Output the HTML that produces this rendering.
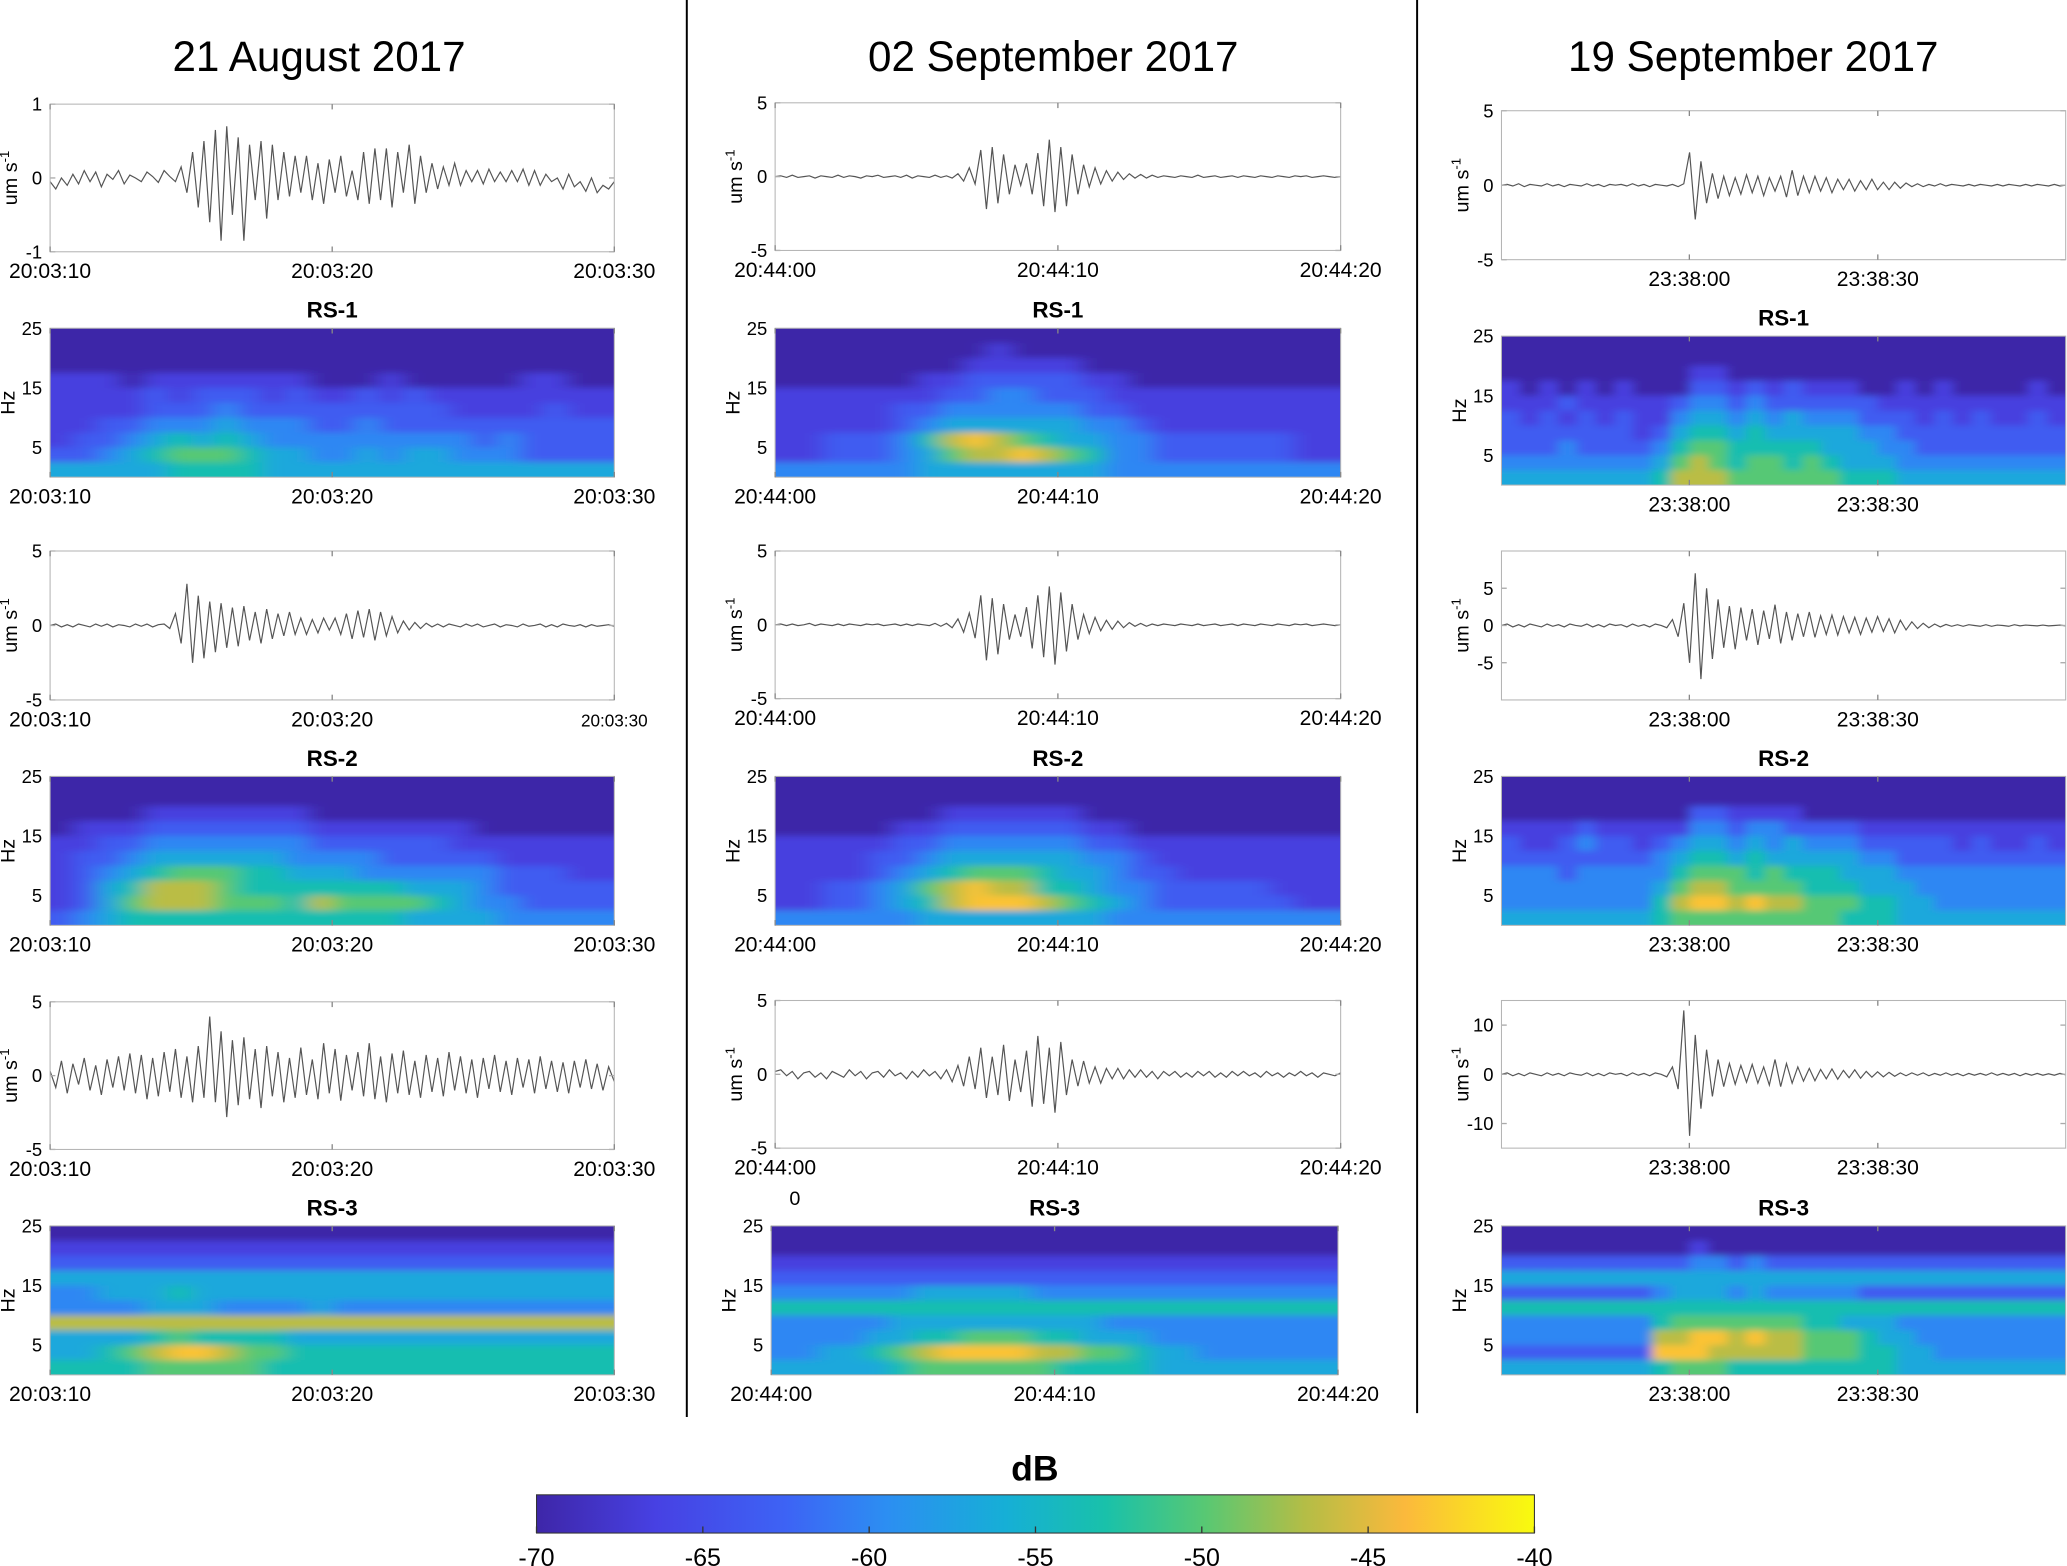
<!DOCTYPE html>
<html><head><meta charset="utf-8"><style>
html,body{margin:0;padding:0;background:#fff;}
svg{display:block;}
text{font-family:"Liberation Sans",sans-serif;}
</style></head><body>
<svg id="fig" width="2067" height="1566" viewBox="0 0 1568 1188" preserveAspectRatio="none" xmlns="http://www.w3.org/2000/svg">
<defs>
<linearGradient id="parula" x1="0" x2="1" y1="0" y2="0">
<stop offset="0" stop-color="#3e26a8"/><stop offset="0.12" stop-color="#4741e3"/><stop offset="0.25" stop-color="#3d63f5"/><stop offset="0.35" stop-color="#2c8ef2"/><stop offset="0.47" stop-color="#16afd6"/><stop offset="0.57" stop-color="#19c1aa"/><stop offset="0.67" stop-color="#58c873"/><stop offset="0.77" stop-color="#b4bd46"/><stop offset="0.87" stop-color="#fbb93c"/><stop offset="1" stop-color="#f9fb0e"/>
</linearGradient>
</defs>
<g id="root"></g>
</svg>
<script>
// ---- waveform data (velocity, um/s) ----
const c1w1=[-0.05,-0.15,0.0,-0.1,0.05,-0.08,0.1,-0.05,0.08,-0.12,0.05,-0.02,0.1,-0.08,0.04,0.0,-0.05,0.08,0.02,-0.06,0.1,0.02,-0.05,0.15,-0.2,0.35,-0.4,0.5,-0.6,0.65,-0.85,0.7,-0.5,0.55,-0.85,0.45,-0.3,0.5,-0.55,0.45,-0.3,0.35,-0.25,0.3,-0.2,0.3,-0.3,0.2,-0.35,0.25,-0.2,0.3,-0.25,0.1,-0.3,0.35,-0.35,0.4,-0.3,0.4,-0.4,0.35,-0.2,0.45,-0.35,0.3,-0.2,0.2,-0.15,0.15,-0.1,0.2,-0.1,0.1,-0.05,0.1,-0.08,0.12,-0.05,0.08,-0.05,0.1,-0.05,0.12,-0.1,0.1,-0.1,0.05,-0.05,0.0,-0.15,0.05,-0.12,-0.05,-0.18,0.0,-0.2,-0.1,-0.15,-0.05];
const c1w2=[0,0.1,-0.1,0.05,-0.1,0.1,0,-0.1,0.1,-0.05,0.1,-0.1,0.05,0,-0.1,0.1,-0.05,0.1,-0.1,0.05,0.1,-0.2,0.8,-1.2,2.8,-2.5,2.0,-2.2,1.6,-1.8,1.5,-1.5,1.2,-1.4,1.3,-1.0,0.9,-1.2,1.1,-0.9,0.8,-0.7,0.9,-0.6,0.5,-0.6,0.4,-0.5,0.5,-0.3,0.5,-0.6,0.8,-0.9,1.0,-0.8,1.1,-1.0,0.9,-0.7,0.6,-0.5,0.3,-0.3,0.2,-0.2,0.15,-0.1,0.1,-0.1,0.1,0,-0.1,0.1,-0.05,0.1,-0.1,0,0.1,-0.1,0.05,0,-0.1,0.1,-0.05,0,0.1,-0.1,0.05,-0.1,0.1,0,-0.05,0.05,-0.1,0.05,-0.05,0,0.05,-0.05];
const c1w3=[0.3,-0.8,1.0,-1.2,0.8,-0.6,1.2,-1.0,0.7,-1.3,1.1,-0.8,1.3,-1.0,1.5,-1.2,1.4,-1.6,1.2,-1.4,1.6,-1.1,1.8,-1.5,1.3,-1.8,2.0,-1.5,4.0,-1.8,3.0,-2.8,2.4,-2.0,2.6,-1.6,1.8,-2.2,2.0,-1.4,1.6,-1.8,1.2,-1.5,1.9,-1.3,1.1,-1.6,2.2,-1.2,1.8,-1.7,1.4,-1.0,1.6,-1.4,2.2,-1.6,1.3,-1.8,1.5,-1.2,1.7,-1.3,1.0,-1.5,1.4,-1.1,1.2,-1.4,1.6,-1.0,1.3,-1.2,1.1,-1.5,1.2,-0.9,1.4,-1.1,1.0,-1.3,1.2,-0.8,1.1,-1.2,1.3,-0.9,1.0,-1.1,0.9,-1.2,1.0,-0.8,1.1,-0.9,0.8,-1.0,0.6,-0.4];
const c2w1=[0,0.05,-0.05,0.1,-0.05,0,0.05,-0.1,0.05,0,-0.05,0.1,-0.05,0.05,0,-0.1,0.05,0,0.1,-0.05,0,0.05,-0.05,0.1,-0.1,0.05,0,-0.05,0.1,-0.05,0.05,-0.1,0.2,-0.3,0.6,-0.5,1.8,-2.2,2.0,-1.8,1.5,-1.2,0.8,-0.6,0.9,-1.2,1.6,-2.0,2.5,-2.4,2.0,-2.0,1.5,-1.2,0.8,-0.7,0.6,-0.5,0.4,-0.3,0.3,-0.2,0.2,-0.1,0.15,-0.1,0.1,-0.05,0.05,0,-0.05,0.05,0,-0.05,0.1,-0.05,0,0.05,-0.05,0,0.05,-0.05,0.05,0,-0.05,0.05,0,-0.05,0.05,0,-0.05,0.05,0,0.05,-0.05,0,0.05,0,-0.05,0];
const c2w2=[0,0.05,-0.05,0.05,-0.05,0,0.1,-0.05,0.05,0,-0.05,0.05,-0.05,0.05,0,-0.05,0.05,0,0.05,-0.05,0,0.05,-0.05,0.05,-0.05,0.05,0,-0.05,0.1,-0.1,0.1,-0.2,0.4,-0.5,0.8,-0.9,2.0,-2.4,1.8,-2.0,1.4,-1.0,0.7,-0.8,1.2,-1.6,2.0,-2.2,2.6,-2.7,2.2,-1.8,1.4,-1.0,0.7,-0.6,0.5,-0.4,0.3,-0.3,0.25,-0.2,0.15,-0.1,0.1,-0.1,0.05,-0.05,0.05,0,-0.05,0.05,0,-0.05,0.05,-0.05,0,0.05,-0.05,0,0.05,-0.05,0.05,0,-0.05,0.05,0,-0.05,0.05,0,-0.05,0.05,0,0.05,-0.05,0,0.05,0,-0.05,0];
const c2w3=[0.2,0.3,-0.1,0.2,-0.3,0.1,0.2,-0.2,0.1,-0.3,0.2,0,-0.2,0.3,-0.1,0.2,-0.3,0.1,0.2,-0.2,0.3,-0.1,0.1,-0.3,0.2,-0.2,0.3,-0.1,0.2,-0.3,0.3,-0.5,0.6,-0.8,1.2,-1.0,1.8,-1.6,1.2,-1.4,2.0,-1.8,1.0,-1.2,1.6,-2.2,2.6,-2.0,1.8,-2.6,2.2,-1.4,1.0,-0.8,0.9,-0.6,0.5,-0.6,0.4,-0.3,0.4,-0.3,0.3,-0.2,0.3,-0.2,0.2,-0.3,0.2,-0.1,0.2,-0.2,0.1,-0.2,0.2,-0.1,0.2,-0.2,0.1,-0.2,0.2,-0.1,0.2,-0.1,0.1,-0.2,0.2,-0.1,0.1,-0.2,0.1,-0.1,0.2,-0.1,0.1,-0.2,0.1,0,-0.1,0.1];
const c3w1=[0,0.05,-0.05,0.1,-0.1,0.05,0,-0.05,0.1,-0.05,0.05,-0.1,0.05,0,-0.05,0.1,-0.05,0.05,-0.1,0.05,0,0.05,-0.05,0.1,-0.05,0.05,-0.1,0.05,0,-0.05,0.05,-0.1,0.1,2.2,-2.3,1.6,-1.2,0.8,-0.9,0.6,-0.7,0.5,-0.6,0.7,-0.5,0.6,-0.7,0.5,-0.4,0.6,-0.8,1.0,-0.7,0.6,-0.5,0.6,-0.4,0.5,-0.5,0.4,-0.3,0.4,-0.4,0.3,-0.3,0.4,-0.3,0.2,-0.3,0.2,-0.2,0.15,-0.1,0.1,-0.1,0.05,-0.05,0.1,-0.05,0.05,0,-0.05,0.05,-0.05,0.05,0,-0.05,0.05,-0.05,0.05,0,-0.05,0.05,-0.05,0.05,0,-0.05,0.05,-0.05,0];
const c3w2=[0,0.2,-0.2,0.1,-0.2,0.2,0,-0.2,0.2,-0.1,0.1,-0.2,0.2,0,-0.1,0.2,-0.2,0.1,-0.2,0.2,0,0.1,-0.2,0.2,-0.1,0.1,-0.2,0.2,0,-0.3,0.8,-1.5,3.0,-5.0,7.0,-7.2,5.0,-4.5,3.5,-3.0,2.6,-3.2,2.4,-2.0,2.2,-2.6,2.0,-1.8,2.8,-2.4,1.8,-2.0,1.6,-1.5,1.8,-1.6,1.3,-1.2,1.4,-1.3,1.2,-1.0,1.1,-1.2,1.0,-0.9,1.2,-0.8,0.9,-1.0,0.7,-0.6,0.5,-0.4,0.3,-0.3,0.2,-0.2,0.15,-0.1,0.1,-0.1,0.1,0,-0.1,0.1,-0.1,0.05,0,-0.1,0.1,-0.05,0.05,0,-0.05,0.05,-0.05,0,0.05,-0.05];
const c3w3=[0,0.3,-0.3,0.2,-0.3,0.3,0,-0.3,0.3,-0.2,0.2,-0.3,0.3,0,-0.2,0.3,-0.3,0.2,-0.3,0.3,0,0.2,-0.3,0.3,-0.2,0.2,-0.3,0.3,0,-0.5,1.5,-3.0,13.0,-12.5,8.0,-7.0,5.0,-4.5,3.0,-2.5,2.2,-2.0,1.8,-1.6,2.0,-1.8,1.5,-2.2,3.0,-2.5,2.2,-1.8,1.5,-1.4,1.2,-1.3,1.0,-0.9,1.1,-1.0,0.8,-0.7,0.9,-0.8,0.6,-0.6,0.5,-0.5,0.4,-0.4,0.3,-0.3,0.3,-0.2,0.3,-0.3,0.2,-0.2,0.3,-0.2,0.2,-0.3,0.2,-0.2,0.2,-0.2,0.3,-0.2,0.2,-0.2,0.2,-0.3,0.2,-0.2,0.2,-0.2,0.1,-0.2,0.2,-0.1];
// ---- spectrogram data: rows 25Hz(top) -> 0Hz(bottom), levels 0..9 ----
const c1s1=["000000000000000000000000","000000000000000000000000","000000000000000000000000","111011111110001000001100","111121222121121211111111","111122232222222221111211","112233343332232222222222","122345454333333333232222","223456665443343443332222","444445555444444444444444"];
const c1s2=["000000000000000000000000","000000000000000000000000","000011111110000000000000","011122222221111111000000","112233333332222221111111","122344444433332222211111","123456665544433333322211","124577765555555444322222","124677766657666654332222","234555555555555444433333"];
const c1s3=["000000000000000000000000","111111111111111111111111","222222222222222222222222","444444444444444444444444","334445444444444444444444","333344433334333333333333","777777777777777777777777","444456555544444444444444","445678876655555555555555","555566666555555555555555"];
const c2s1=["000000000000000000000000","000000000100000000000000","000000001111100000000000","000000112222211000000000","111111122332221111111111","111112233333322111111111","111112344444433211111111","112223578765443322222211","112223467787653322222211","333333444444443333333333"];
const c2s2=["000000000000000000000000","000000000000000000000000","000000011111100000000000","000001122222211000000000","111112233333322111111111","111122344444433211111111","111123456665443221111111","112234678775543322222111","112234578887654322222211","333333444444443333333333"];
const c2s3=["000000000000000000000000","000000000000000000000000","111111111111111111111111","222222222222222222222222","333333444443333333333333","555555555555555555555555","333334444444443333333333","333344556665544433333333","334456788887766544333333","444445666666555544444444"];
const c3s1=["000000000000000000000000000000","000000000000000000000000000000","000000000011000000000000000000","101010100022121211100101000010","111211111233232222221111111111","212121211344343433322212121121","222222212455454444433222222222","222322223566555554443322222222","333333334676566565444333333333","444444445777666666555444444444"];
const c3s2=["000000000000000000000000000000","000000000000000000000000000000","000000000022111100000000000000","111121111133233222211111111111","211232212344343433322222121121","222222223455454444433222222222","333233333566656555444333333333","333333334677666655544433333333","333333335788787766655443333333","444444445666666666555444444444"];
const c3s3=["000000000000000000000000000000","000000000010000000000000000000","222222222233232222222222222222","444444444444444444444444444444","222222223444343333322222222222","555555555555555555555555555555","333333335666666655444333333333","333333337788787766654433333333","222222228887777766655443333333","444444445666555555555444444444"];

const colStops=[[0,"#3e26a8"],[0.12,"#4741e3"],[0.25,"#3d63f5"],[0.35,"#2c8ef2"],[0.47,"#16afd6"],[0.57,"#19c1aa"],[0.67,"#58c873"],[0.77,"#b4bd46"],[0.87,"#fbb93c"],[1,"#f9fb0e"]];
function hex(h){return [1,3,5].map(i=>parseInt(h.substr(i,2),16));}
function cmap(t){t=Math.max(0,Math.min(1,t));for(let i=1;i<colStops.length;i++){if(t<=colStops[i][0]){const a=colStops[i-1],b=colStops[i];const f=(t-a[0])/(b[0]-a[0]);const A=hex(a[1]),B=hex(b[1]);return "rgb("+A.map((v,k)=>Math.round(v+(B[k]-v)*f)).join(",")+")";}}return colStops[colStops.length-1][1];}

const NS="http://www.w3.org/2000/svg";
const root=document.getElementById('root');
const defs=document.querySelector('defs');
function el(tag,attrs,parent){const e=document.createElementNS(NS,tag);for(const k in attrs)e.setAttribute(k,attrs[k]);(parent||root).appendChild(e);return e;}
function txt(x,y,s,size,anchor,extra,parent){const t=el('text',Object.assign({x:x,y:y,'font-size':size,'text-anchor':anchor||'middle',fill:'#000'},extra||{}),parent);t.textContent=s;return t;}

const columns=[
 {title:"21 August 2017",cx:242,x0:38,x1:466,tLabels:["20:03:10","20:03:20","20:03:30"],tFrac:[0,0.5,1],
  rows:[{k:'w',y0:79,y1:191,d:c1w1,r:1,ticks:[-1,0,1]},{k:'s',y0:249,y1:362,d:c1s1,t:"RS-1"},{k:'w',y0:418,y1:531,d:c1w2,r:5,ticks:[-5,0,5]},{k:'s',y0:589,y1:702,d:c1s2,t:"RS-2"},{k:'w',y0:760,y1:872,d:c1w3,r:5,ticks:[-5,0,5]},{k:'s',y0:930,y1:1043,d:c1s3,t:"RS-3"}]},
 {title:"02 September 2017",cx:799,x0:588,x1:1017,tLabels:["20:44:00","20:44:10","20:44:20"],tFrac:[0,0.5,1],
  rows:[{k:'w',y0:78,y1:190,d:c2w1,r:5,ticks:[-5,0,5]},{k:'s',y0:249,y1:362,d:c2s1,t:"RS-1"},{k:'w',y0:418,y1:530,d:c2w2,r:5,ticks:[-5,0,5]},{k:'s',y0:589,y1:702,d:c2s2,t:"RS-2"},{k:'w',y0:759,y1:871,d:c2w3,r:5,ticks:[-5,0,5]},{k:'s',y0:930,y1:1043,d:c2s3,t:"RS-3",x0:585,x1:1015}]},
 {title:"19 September 2017",cx:1330,x0:1139,x1:1567,tLabels:["23:38:00","23:38:30"],tFrac:[0.333,0.667],
  rows:[{k:'w',y0:84,y1:197,d:c3w1,r:5,ticks:[-5,0,5]},{k:'s',y0:255,y1:368,d:c3s1,t:"RS-1"},{k:'w',y0:418,y1:531,d:c3w2,r:10,ticks:[-5,0,5]},{k:'s',y0:589,y1:702,d:c3s2,t:"RS-2"},{k:'w',y0:759,y1:871,d:c3w3,r:15,ticks:[-10,0,10]},{k:'s',y0:930,y1:1043,d:c3s3,t:"RS-3"}]}
];

let uid=0;
columns.forEach((c,ci)=>{
  const g=el('g',{});
  
  
  const tt=txt(c.cx,54,c.title,32,'middle',{},g);
  
  
  c.rows.forEach((r,ri)=>{
    const x0=r.x0||c.x0,x1=r.x1||c.x1,y0=r.y0,y1=r.y1,W=x1-x0,H=y1-y0;
    const pg=el('g',{},g);
    
    
    const id='clip'+(uid++);
    const cp=el('clipPath',{id:id},defs);el('rect',{x:x0,y:y0,width:W,height:H},cp);
    if(r.k==='w'){
      el('rect',{x:x0,y:y0,width:W,height:H,fill:'#fff'},pg);
      const xs=i=>x0+W*i/(r.d.length-1);
      const ys=v=>(y0+y1)/2-v/r.r*H/2;
      const pts=r.d.map((v,i)=>xs(i).toFixed(1)+','+ys(v).toFixed(1)).join(' ');
      const pl=el('polyline',{points:pts,fill:'none',stroke:'#555','stroke-width':0.9,'clip-path':'url(#'+id+')'},pg);
      
      
      r.ticks.forEach(tv=>{const yy=ys(tv);txt(x0-6,yy+5,String(tv),14,'end',{},pg);el('line',{x1:x0,x2:x0+4,y1:yy,y2:yy,stroke:'#aaa'},pg);el('line',{x1:x1,x2:x1-4,y1:yy,y2:yy,stroke:'#aaa'},pg);});
      const yl=txt(0,0,"um s",15,'middle',{transform:'translate('+(x0-25)+','+((y0+y1)/2)+') rotate(-90)'},pg);
      const sp=el('tspan',{dy:-6,'font-size':10},yl);sp.textContent='-1';
      
      
    } else {
      const nR=r.d.length,nC=r.d[0].length,cw=W/nC,ch=H/nR;
      const fid='blur'+(uid++);
      const f=el('filter',{id:fid,filterUnits:'userSpaceOnUse',x:x0-40,y:y0-40,width:W+80,height:H+80},defs);
      el('feGaussianBlur',{stdDeviation:(cw*(nC>24?0.3:0.45)).toFixed(2)+' '+(ch*0.22).toFixed(2)},f);
      const cg=el('g',{'clip-path':'url(#'+id+')'},pg);
      const hg=el('g',{filter:'url(#'+fid+')'},cg);
      
      
      r.d.forEach((row,ri2)=>{for(let j=0;j<nC;j++){const v=+row[j];
        const xx=x0+j*cw-(j===0?20:0),ww=cw+(j===0?20:0)+(j===nC-1?20:0)+0.5;
        const yy=y0+ri2*ch-(ri2===0?20:0),hh=ch+(ri2===0?20:0)+(ri2===nR-1?20:0)+0.5;
        el('rect',{x:xx.toFixed(1),y:yy.toFixed(1),width:ww.toFixed(1),height:hh.toFixed(1),fill:cmap(v/9)},hg);}});
      const fy=v=>y1-v/25*H;
      [5,15,25].forEach(v=>txt(x0-6,fy(v)+5,String(v),14,'end',{},pg));
      const hz=txt(0,0,"Hz",15,'middle',{transform:'translate('+(x0-27)+','+((y0+y1)/2)+') rotate(-90)'},pg);
      
      
      const st=txt((x0+x1)/2,y0-8,r.t,17,'middle',{'font-weight':'bold'},pg);
      
      
    }
    el('rect',{x:x0,y:y0,width:W,height:H,fill:'none',stroke:'#b5b5b5','stroke-width':0.8},pg);
    c.tFrac.forEach((fr,k)=>{const xx=x0+W*fr;
      el('line',{x1:xx,x2:xx,y1:y1,y2:y1-4,stroke:'#888'},pg);el('line',{x1:xx,x2:xx,y1:y0,y2:y0+4,stroke:'#888'},pg);
      const small=(ci===0&&ri===2&&k===2);
      txt(xx,y1+20,c.tLabels[k],small?13:16,'middle',{},pg);});
  });
});
txt(603,914,"0",15,'middle');
// dividers
const d1=el('line',{x1:521,x2:521,y1:0,y2:1075,stroke:'#000','stroke-width':1.5});


const d2=el('line',{x1:1075,x2:1075,y1:0,y2:1072,stroke:'#000','stroke-width':1.5});


// colorbar
const cbTicks=[-70,-65,-60,-55,-50,-45,-40];
const cb=el('g',{});


el('rect',{x:407,y:1134,width:757,height:29,fill:'url(#parula)',stroke:'#333','stroke-width':0.8},cb);
const dbt=txt(785,1123,"dB",27,'middle',{'font-weight':'bold'},cb);


cbTicks.forEach(v=>{const xx=407+757*(v+70)/30;el('line',{x1:xx,x2:xx,y1:1163,y2:1158,stroke:'#333'},cb);txt(xx,1188,String(v),19,'middle',{},cb);});
</script>
</body></html>
